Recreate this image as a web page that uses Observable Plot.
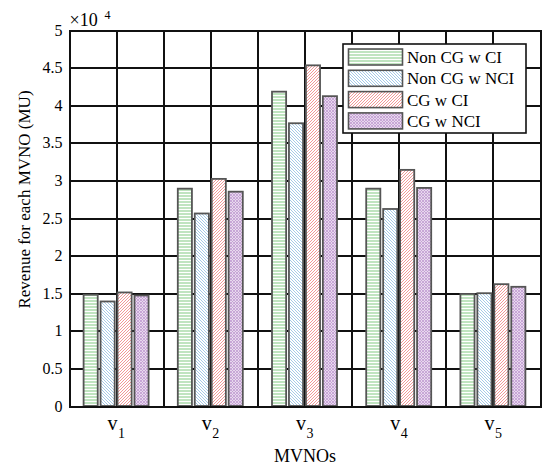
<!DOCTYPE html>
<html><head><meta charset="utf-8">
<script src="https://cdn.jsdelivr.net/npm/d3@7"></script>
<script src="https://cdn.jsdelivr.net/npm/@observablehq/plot@0.6"></script>
<style>body{margin:0;background:#fff}</style>
</head><body><div id="chart"></div>
<script>
const categories = ["1","2","3","4","5"];
const nonCGwCI  = [1.48, 2.89, 4.18, 2.89, 1.49];
const nonCGwNCI = [1.39, 2.56, 3.76, 2.62, 1.50];
const cgwCI     = [1.51, 3.02, 4.53, 3.14, 1.62];
const cgwNCI    = [1.47, 2.85, 4.12, 2.90, 1.585];
const seriesNames = ["Non CG w CI", "Non CG w NCI", "CG w CI", "CG w NCI"];
const seriesValues = [nonCGwCI, nonCGwNCI, cgwCI, cgwNCI];
const patternIds = ["pg", "pb", "pr", "pp"];
const yTicks = [0,0.5,1,1.5,2,2.5,3,3.5,4,4.5,5];
const xGrid = [0.5,1,1.5,2,2.5,3,3.5,4,4.5,5,5.5];

const pitch = 0.18, bw = 0.15;
const rows = [];
seriesValues.forEach((vals, s) => vals.forEach((v, i) => {
  const c = i + 1 + (s - 1.5) * pitch;
  rows.push({x1: c - bw/2, x2: c + bw/2, y: v, s});
}));
const cats = categories.map((c, i) => ({x: i + 1, sub: c}));
const font = "'Liberation Serif', 'Times New Roman', serif";

const plot = Plot.plot({
  width: 546, height: 468,
  marginLeft: 69, marginRight: 6, marginTop: 30, marginBottom: 62,
  style: {fontFamily: font, fontSize: "15px", background: "#fff", color: "#000"},
  x: {domain: [0.5, 5.5], axis: null},
  y: {domain: [0, 5], axis: null},
  marks: [
    Plot.ruleX(xGrid, {stroke: "#111", strokeWidth: 2, shapeRendering: "crispEdges"}),
    Plot.ruleY(yTicks, {stroke: "#111", strokeWidth: 2, shapeRendering: "crispEdges"}),
    ...[0,1,2,3].map(s => Plot.rectY(rows.filter(r => r.s === s), {x1: "x1", x2: "x2", y1: 0, y2: "y",
      fill: `url(#${patternIds[s]})`, stroke: "#555", strokeWidth: 1.8})),
    Plot.frame({stroke: "#111", strokeWidth: 2, shapeRendering: "crispEdges"}),
    Plot.axisY(yTicks, {tickSize: 0, tickPadding: 7, fontSize: 16, label: null, tickFormat: d => String(d)}),
    Plot.text(cats, {x: "x", text: () => "v", frameAnchor: "bottom", dy: 23, dx: -4, fontSize: 20}),
    Plot.text(cats, {x: "x", text: "sub", frameAnchor: "bottom", dy: 31, dx: 5, fontSize: 14}),
    Plot.text(["MVNOs"], {frameAnchor: "bottom", dy: 55.5, fontSize: 18}),
    Plot.text(["Revenue for each MVNO (MU)"], {frameAnchor: "left", dx: -45, dy: -19, rotate: -90, textAnchor: "middle", fontSize: 17}),
    Plot.text(["×10"], {frameAnchor: "top-left", dx: 0, dy: -16.8, textAnchor: "start", fontSize: 18}),
    Plot.text(["4"], {frameAnchor: "top-left", dx: 35, dy: -20.5, textAnchor: "start", fontSize: 12})
  ]
});

const svg = d3.select(plot);
const defs = svg.insert("defs", ":first-child");
function pat(id, size, draw) {
  const p = defs.append("pattern").attr("id", id).attr("patternUnits", "userSpaceOnUse")
    .attr("width", size).attr("height", size);
  p.append("rect").attr("width", size).attr("height", size).attr("fill", "#fff");
  draw(p);
}
pat("pg", 3, p => p.append("line").attr("x1", 0).attr("x2", 3).attr("y1", 1).attr("y2", 1)
  .attr("stroke", "#8ccf8c").attr("stroke-width", 1.1));
pat("pb", 3, p => { p.append("path").attr("d", "M-1,-1 L4,4 M-1,2 L1,4 M2,-1 L4,1")
  .attr("stroke", "#9cc4e4").attr("stroke-width", 0.9); });
pat("pr", 3, p => { p.append("path").attr("d", "M-1,4 L4,-1 M-1,1 L1,-1 M2,4 L4,2")
  .attr("stroke", "#f08c8c").attr("stroke-width", 0.9); });
pat("pp", 3, p => { p.append("rect").attr("width", 3).attr("height", 3).attr("fill", "#e8d8ee");
  p.append("path").attr("d", "M0,0 L3,3 M3,0 L0,3").attr("stroke", "#c09ad0").attr("stroke-width", 0.8); });

const lg = svg.append("g").attr("font-family", font).attr("font-size", 17).attr("text-anchor", "start");
lg.append("rect").attr("x", 343).attr("y", 44).attr("width", 183).attr("height", 89)
  .attr("fill", "#fff").attr("stroke", "#111").attr("stroke-width", 1.6);
seriesNames.forEach((name, i) => {
  const cy = 57 + i * 21.3;
  lg.append("rect").attr("x", 348.5).attr("y", cy - 8).attr("width", 54).attr("height", 16)
    .attr("fill", `url(#${patternIds[i]})`).attr("stroke", "#555").attr("stroke-width", 1.6);
  lg.append("text").attr("x", 407).attr("y", cy + 6).attr("text-anchor", "start").text(name);
});

document.getElementById("chart").append(plot);
</script>
</body></html>
